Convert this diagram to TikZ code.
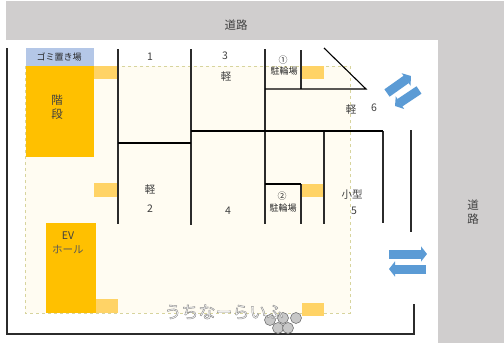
\documentclass[tikz,border=0pt]{standalone}
\usepackage{fontspec}
\setmainfont{Noto Sans CJK JP}
\usetikzlibrary{arrows.meta}
\definecolor{roadgray}{HTML}{D0CECE}
\definecolor{floorcream}{HTML}{FFFCF2}
\definecolor{stairgold}{HTML}{FFC000}
\definecolor{patchgold}{HTML}{FFD366}
\definecolor{binblue}{HTML}{B4C7E7}
\definecolor{flowblue}{HTML}{5B9BD5}
\definecolor{wallblack}{HTML}{2B2B2B}
\definecolor{labelgray}{HTML}{404040}
\tikzset{
  wall/.style={draw=wallblack, line width=1.4pt},
  thinwall/.style={draw=black, line width=1.1pt},
  road/.style={fill=roadgray},
  patch/.style={fill=patchgold},
  flow/.style={draw=flowblue, line width=9pt, -{Triangle[length=6pt,width=15pt]}},
  lab/.style={font=\fontsize{10.5}{10.5}\selectfont, text=labelgray, inner sep=0pt},
  smalllab/.style={font=\fontsize{9}{9}\selectfont, text=black!85, inner sep=0pt},
  ghost/.style={font=\fontsize{17}{17}\selectfont, text=white, inner sep=0pt},
  pebble/.style={fill=black!22, draw=black!55, line width=0.6pt}
}
\begin{document}
\begin{tikzpicture}[x=1pt,y=-1pt]
\useasboundingbox (0,0) rectangle (504,343);
% road
\fill[road] (6,1) rectangle (504,40);
\fill[road] (438,40) rectangle (504,343);
% floor
\fill[floorcream] (25,66) rectangle (350,313);
\draw[draw=yellow!60!black!45, dashed, line width=0.6pt] (25,66) rectangle (350,313);
\fill[patch] (94,66) rectangle (118,79);
\fill[patch] (94,183) rectangle (118,197);
\fill[patch] (96,299) rectangle (118,313);
\fill[patch] (302,66) rectangle (324,79);
\fill[patch] (302,184) rectangle (323,197);
\fill[patch] (302,303) rectangle (324,316);
\fill[fill=binblue] (26,48) rectangle (94,66);
\fill[fill=stairgold] (26,66) rectangle (94,157);
\fill[fill=stairgold] (46,223) rectangle (96,313);
% walls
\draw[wall] (7,48) -- (7,334) -- (414,334) -- (414,304);
\draw[wall] (118,49) -- (118,224);
\draw[wall] (191,49) -- (191,225);
\draw[wall] (265,49) -- (265,224);
\draw[wall] (301,50) -- (301,89);
\draw[wall] (301,184) -- (301,224);
\draw[wall] (324,131) -- (324,224);
\draw[wall] (383,131) -- (383,223);
\draw[wall] (411,130) -- (411,232);
\draw[thinwall] (118,143) -- (191,143);
\draw[thinwall] (191,131) -- (383,131);
\draw[thinwall] (265,89) -- (366,89) -- (324,48);
\draw[thinwall] (265,184) -- (301,184);
% arrows
\draw[flow] (387,93) -- (411,76);
\draw[flow] (419,90) -- (395,106);
\draw[flow] (389,254) -- (427,254);
\draw[flow] (426,269) -- (389,269);
% labels
\node[lab, font=\fontsize{11.5}{11.5}\selectfont] (roadtop) at (236,25) {道路};
\node[lab, font=\fontsize{11.5}{11.5}\selectfont] (roadside) at (473,212) {\shortstack{道\\[1pt]路}};
\node[smalllab] (binlab) at (59,57) {ゴミ置き場};
\node[lab, font=\fontsize{11.5}{11.5}\selectfont] (stairlab) at (57,107) {\shortstack{階\\[1pt]段}};
\node[lab, text=black!75] (evlab) at (68,236) {EV};
\node[lab, text=black!65] (hall) at (68,250) {ホール};
\node[lab] (one) at (150,57) {1};
\node[lab] (three) at (225,56) {3};
\node[lab] (keithree) at (226,77) {軽};
\node[smalllab] (rack1a) at (283,60) {①};
\node[smalllab] (rack1b) at (284,71) {駐輪場};
\node[lab] (keisix) at (351,110) {軽};
\node[lab] (six) at (374,108) {6};
\node[lab] (keitwo) at (150,190) {軽};
\node[lab] (two) at (150,209) {2};
\node[lab] (four) at (228,211) {4};
\node[smalllab] (rack2a) at (282,196) {②};
\node[smalllab] (rack2b) at (283,208) {駐輪場};
\node[lab] (small) at (352,195) {小型};
\node[lab] (five) at (354,211) {5};
% watermark
\foreach \px/\py in {270/320, 283/318, 296/318, 278/328, 288/328}
  \draw[pebble] (\px,\py) circle (5.5pt);
\node[ghost] (mark) at (224,312) {\special{pdf:literal direct 2 Tr 0.45 w 0.55 G}うちなーらいふ\special{pdf:literal direct 0 Tr}};
\end{tikzpicture}
\end{document}
